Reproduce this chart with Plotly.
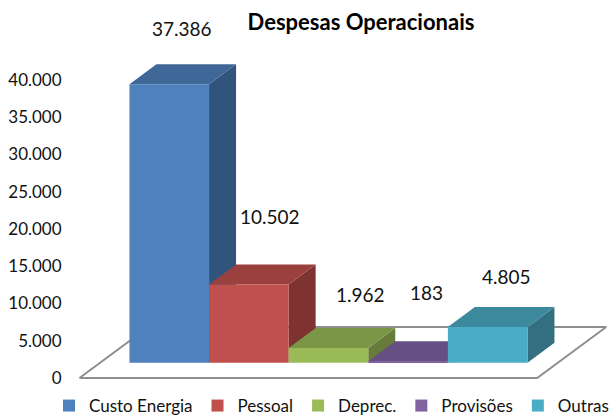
import plotly.graph_objects as go

# Data
categories = ["Custo Energia", "Pessoal", "Deprec.", "Provisões", "Outras"]
values = [37386, 10502, 1962, 183, 4805]
value_labels = ["37.386", "10.502", "1.962", "183", "4.805"]
y_ticks = [0, 5000, 10000, 15000, 20000, 25000, 30000, 35000, 40000]
y_tick_labels = ["0", "5.000", "10.000", "15.000", "20.000", "25.000", "30.000", "35.000", "40.000"]

# Style
front = ["#4F81BD", "#C0504D", "#9BBB59", "#8064A2", "#4BACC6"]
top = ["#3F6797", "#9A403E", "#7C9647", "#664F82", "#3C899E"]
side = ["#31547D", "#7E3331", "#677C3B", "#544268", "#326F80"]
FONT = "Lato"
FS = 17
label_shift = [(13, 56), (21, 68), (32, 54), (18, 69), (19, 50)]

# Oblique projection, in axis units
BASE = 2050      # bar front base above floor front edge
DX, DY = 0.339, 2685   # bar depth
XR = [-1.2469, 5.587]
YR = [-6174, 45369]
H = 424

fig = go.Figure()

# Floor outline
fl, fr = -1.128, 4.622
fx, fy = 0.867, 6846
fig.add_trace(go.Scatter(
    x=[fl, fr, fr + fx, fl + fx, fl], y=[0, 0, fy, fy, 0], mode="lines",
    line=dict(color="#8E8E8E", width=2), showlegend=False, hoverinfo="skip"))

# Top and side faces, left to right
for i, v in enumerate(values):
    l, r, t = i - 0.5, i + 0.5, BASE + v
    fig.add_trace(go.Scatter(
        x=[r, r + DX, r + DX, r, r], y=[BASE, BASE + DY, t + DY, t, BASE],
        mode="lines", fill="toself", fillcolor=side[i], line=dict(width=0),
        showlegend=False, hoverinfo="skip"))
    fig.add_trace(go.Scatter(
        x=[l, r, r + DX, l + DX, l], y=[t, t, t + DY, t + DY, t],
        mode="lines", fill="toself", fillcolor=top[i], line=dict(width=0),
        showlegend=False, hoverinfo="skip"))

# Front faces on an overlay so they cover all the back faces
for i, v in enumerate(values):
    fig.add_trace(go.Bar(
        x=[i], y=[v], base=[BASE], width=[1], name=categories[i],
        marker=dict(color=front[i], line=dict(width=0)),
        xaxis="x2", yaxis="y2"))

for i, v in enumerate(values):
    fig.add_annotation(
        x=i, y=BASE + v, text=value_labels[i], showarrow=False,
        xshift=label_shift[i][0], yshift=label_shift[i][1],
        font=dict(family=FONT, size=19, color="#111111"))

DOMAIN = [70 / 614, 1]
fig.update_layout(
    width=614, height=H, margin=dict(l=0, r=0, t=40, b=0),
    paper_bgcolor="white", plot_bgcolor="white",
    font=dict(family=FONT, size=FS, color="#111111"),
    barmode="overlay",
    title=dict(text="<b>Despesas Operacionais</b>", x=361 / 614, xanchor="center",
               y=1 - 22 / H, yanchor="middle", font=dict(family=FONT, size=22, color="#000000")),
    xaxis=dict(domain=DOMAIN, range=XR, visible=False, fixedrange=True),
    yaxis=dict(range=YR, tickmode="array", tickvals=y_ticks, ticktext=y_tick_labels,
               showgrid=False, zeroline=False, showline=False, ticks="outside",
               ticklen=4, tickcolor="rgba(0,0,0,0)", fixedrange=True),
    xaxis2=dict(domain=DOMAIN, range=XR, visible=False, overlaying="x", fixedrange=True),
    yaxis2=dict(range=YR, visible=False, overlaying="y", fixedrange=True),
    legend=dict(orientation="h", x=55 / 614, xanchor="left", y=0, yanchor="bottom",
                font=dict(family=FONT, size=FS), itemwidth=30, traceorder="normal",
                bgcolor="rgba(0,0,0,0)"),
)

fig.write_html("out.html", config={"displayModeBar": False},
               post_script="document.body.style.margin='0';document.documentElement.style.overflow='hidden';")
